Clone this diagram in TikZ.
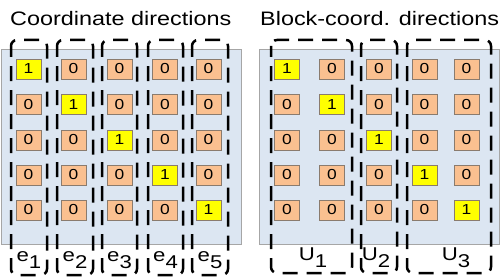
\documentclass[tikz,border=0pt]{standalone}
\usepackage{fontspec}
\setmainfont{Liberation Sans}[FakeStretch=1.2]
\definecolor{panelfill}{HTML}{DCE6F2}
\definecolor{panelline}{HTML}{A6A6A6}
\definecolor{zerofill}{HTML}{FAC090}
\definecolor{onefill}{HTML}{FFFF00}
\definecolor{boxline}{HTML}{8A7B6E}
\tikzset{
  panel/.style={fill=panelfill, draw=panelline, line width=0.8pt},
  zbox/.style={draw=boxline, fill=zerofill, line width=0.8pt, minimum width=25pt, minimum height=20pt, inner sep=0pt, font=\fontsize{14.5}{14.5}\selectfont},
  obox/.style={zbox, fill=onefill},
  group/.style={draw=black, line width=2.5pt, dash pattern=on 15pt off 9pt, dash phase=4pt, rounded corners=6pt},
  glabel/.style={anchor=base, inner sep=0pt, font=\fontsize{18.5}{18.5}\selectfont},
  title/.style={anchor=base west, inner sep=0pt, font=\fontsize{19.5}{19.5}\selectfont}
}
\newcommand{\sublow}[1]{\raisebox{-7pt}{#1}}
\begin{document}
\begin{tikzpicture}[x=1pt,y=-1pt]
\useasboundingbox (0,0) rectangle (500,278);
% titles
\node[title] (t1) at (10,26) {Coordinate directions};
\node[title] (t2) at (260,26) {Block-coord. directions};
% panels
\draw[panel] (1,49) rectangle (241,244);
\draw[panel] (259,49) rectangle (499,244);
% left boxes
\foreach \x [count=\c] in {28.5,73.5,119.5,165,208.5}{
  \foreach \y [count=\r] in {69,104.5,140,175,210}{
    \ifnum\c=\r
      \node[obox] (L\r\c) at (\x,\y) {1};
    \else
      \node[zbox] (L\r\c) at (\x,\y) {0};
    \fi
  }
}
% right boxes
\foreach \x [count=\c] in {287,332,379,424.5,466.5}{
  \foreach \y [count=\r] in {69,104.5,140,175,210}{
    \ifnum\c=\r
      \node[obox] (R\r\c) at (\x,\y) {1};
    \else
      \node[zbox] (R\r\c) at (\x,\y) {0};
    \fi
  }
}
% left groups
\foreach \a/\b [count=\i] in {11/47,57/93,102/137,148/183,192/228}{
  \draw[group] (\a,40) rectangle (\b,275);
  \node[glabel] (e\i) at ({(\a+\b)/2},261) {e\sublow{\i}};
}
% right groups
\draw[group] (271,40) rectangle (352,273);
\draw[group] (361,40) rectangle (397,273);
\draw[group] (407,40) rectangle (491,273);
\node[glabel] (u1) at (313,260) {U\sublow{1}};
\node[glabel] (u2) at (376,260) {U\sublow{2}};
\node[glabel] (u3) at (456,260) {U\sublow{3}};
\end{tikzpicture}
\end{document}
